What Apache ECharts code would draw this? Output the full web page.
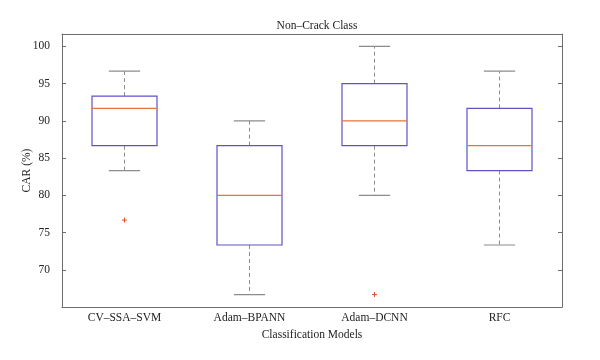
<!DOCTYPE html>
<html><head><meta charset="utf-8">
<script src="https://cdn.jsdelivr.net/npm/echarts@6/dist/echarts.min.js"></script>
<style>html,body{margin:0;padding:0;background:#fff}#c{width:600px;height:360px}</style>
</head><body><div id="c"></div>
<script>
var categories = ['CV–SSA–SVM', 'Adam–BPANN', 'Adam–DCNN', 'RFC'];
var lowerWhisker = [83.33, 66.67, 80, 73.33];
var q1 = [86.67, 73.33, 86.67, 83.33];
var median = [91.67, 80, 90, 86.67];
var q3 = [93.33, 86.67, 95, 91.67];
var upperWhisker = [96.67, 90, 100, 96.67];
var outliers = [[0, 76.67], [2, 66.67]];
var yTicks = [70, 75, 80, 85, 90, 95, 100];

var boxData = categories.map(function (c, i) {
  return [i, lowerWhisker[i], q1[i], median[i], q3[i], upperWhisker[i]];
});

var FONT = 'Liberation Serif';
var FS = 11.5;
var chart = echarts.init(document.getElementById('c'), null, {renderer: 'canvas'});
var axisLineStyle = {color: '#6e6e6e', width: 1};
chart.setOption({
  animation: false,
  title: {
    text: 'Non–Crack Class', left: 312, top: 15, textAlign: 'center',
    textStyle: {fontFamily: FONT, fontSize: FS, fontWeight: 'normal', color: '#222'}
  },
  grid: {left: 62, right: 38, top: 34, bottom: 53},
  xAxis: [{
    type: 'category', data: categories, boundaryGap: true, position: 'bottom',
    axisLine: {lineStyle: axisLineStyle},
    axisTick: {inside: true, alignWithLabel: true, length: 4, lineStyle: axisLineStyle},
    axisLabel: {fontFamily: FONT, fontSize: FS, color: '#222', margin: 5},
    splitLine: {show: false},
    name: 'Classification Models', nameLocation: 'middle', nameGap: 22, nameMoveOverlap: false,
    nameTextStyle: {fontFamily: FONT, fontSize: FS, color: '#222'}
  }, {
    type: 'category', data: categories, boundaryGap: true, position: 'top',
    axisLine: {lineStyle: axisLineStyle},
    axisTick: {inside: true, alignWithLabel: true, length: 4, lineStyle: axisLineStyle},
    axisLabel: {show: false}, splitLine: {show: false}
  }],
  yAxis: [{
    type: 'value', min: 65, max: 101.667, interval: 5, position: 'left',
    axisLine: {show: true, lineStyle: axisLineStyle},
    axisTick: {show: true, inside: true, length: 4, lineStyle: axisLineStyle, customValues: yTicks},
    axisLabel: {fontFamily: FONT, fontSize: FS, color: '#222', margin: 12, customValues: yTicks},
    splitLine: {show: false},
    name: 'CAR (%)', nameLocation: 'middle', nameGap: 29, nameMoveOverlap: false,
    nameTextStyle: {fontFamily: FONT, fontSize: FS, color: '#222'}
  }, {
    type: 'value', min: 65, max: 101.667, interval: 5, position: 'right',
    axisLine: {show: true, lineStyle: axisLineStyle},
    axisTick: {show: true, inside: true, length: 4, lineStyle: axisLineStyle, customValues: yTicks},
    axisLabel: {show: false}, splitLine: {show: false}
  }],
  series: [{
    type: 'custom',
    xAxisIndex: 0, yAxisIndex: 0,
    data: boxData,
    encode: {x: 0, y: [1, 2, 3, 4, 5]},
    renderItem: function (params, api) {
      var idx = api.value(0);
      var band = api.size([1, 0])[0];
      var bw = band * 0.52, cw = band * 0.25;
      var pLo = api.coord([idx, api.value(1)]);
      var pQ1 = api.coord([idx, api.value(2)]);
      var pMed = api.coord([idx, api.value(3)]);
      var pQ3 = api.coord([idx, api.value(4)]);
      var pHi = api.coord([idx, api.value(5)]);
      var x = pMed[0];
      var gray = '#8c8c8c';
      return {
        type: 'group',
        children: [
          {type: 'line', shape: {x1: x, y1: pQ3[1], x2: x, y2: pHi[1]},
            style: {stroke: gray, lineWidth: 1, lineDash: [4, 3]}},
          {type: 'line', shape: {x1: x, y1: pQ1[1], x2: x, y2: pLo[1]},
            style: {stroke: gray, lineWidth: 1, lineDash: [4, 3]}},
          {type: 'line', shape: {x1: x - cw / 2, y1: pHi[1], x2: x + cw / 2, y2: pHi[1]},
            style: {stroke: gray, lineWidth: 1.2}},
          {type: 'line', shape: {x1: x - cw / 2, y1: pLo[1], x2: x + cw / 2, y2: pLo[1]},
            style: {stroke: gray, lineWidth: 1.2}},
          {type: 'rect', shape: {x: x - bw / 2, y: pQ3[1], width: bw, height: pQ1[1] - pQ3[1]},
            style: {fill: 'none', stroke: '#5f52c8', lineWidth: 1.2}},
          {type: 'line', shape: {x1: x - bw / 2, y1: pMed[1], x2: x + bw / 2, y2: pMed[1]},
            style: {stroke: '#e8733a', lineWidth: 1.2}}
        ]
      };
    }
  }, {
    type: 'custom',
    xAxisIndex: 0, yAxisIndex: 0,
    data: outliers,
    encode: {x: 0, y: 1},
    renderItem: function (params, api) {
      var p = api.coord([api.value(0), api.value(1)]);
      var s = 2.5;
      return {
        type: 'group',
        children: [
          {type: 'line', shape: {x1: p[0] - s, y1: p[1], x2: p[0] + s, y2: p[1]},
            style: {stroke: '#e0502a', lineWidth: 1}},
          {type: 'line', shape: {x1: p[0], y1: p[1] - s, x2: p[0], y2: p[1] + s},
            style: {stroke: '#e0502a', lineWidth: 1}}
        ]
      };
    }
  }]
});
</script></body></html>
